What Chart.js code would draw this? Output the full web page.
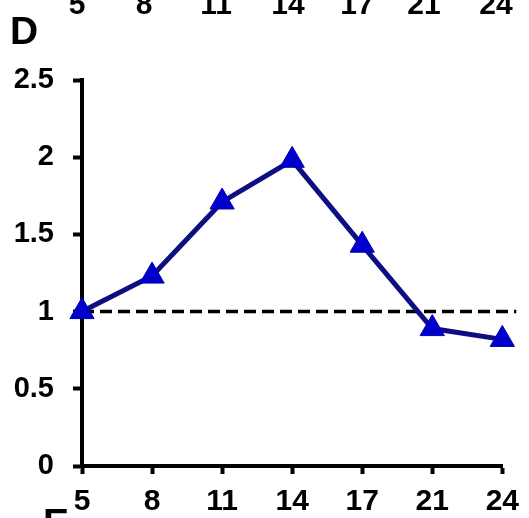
<!DOCTYPE html>
<html>
<head>
<meta charset="utf-8">
<script src="https://cdn.jsdelivr.net/npm/chart.js@4"></script>
<style>
  html, body { margin: 0; padding: 0; background: #fff; }
  #wrap { position: relative; width: 529px; height: 518px; overflow: hidden; }
  #chart { position: absolute; left: 0; top: 0; }
  .txt { position: absolute; font-family: "Liberation Sans", Arial, sans-serif; font-weight: bold; color: #000; line-height: 1; white-space: nowrap; }
  .top { font-size: 30px; transform: translateX(-50%); }
  .panel { font-size: 39px; }
</style>
</head>
<body>
<div id="wrap">
  <canvas id="chart" width="529" height="518"></canvas>
</div>
<script>
// dias
const categorias = ["5", "8", "11", "14", "17", "21", "24"];
// razao relativa
const valores = [1.0, 1.23, 1.71, 1.98, 1.43, 0.89, 0.82];
const yTicks = [0, 0.5, 1, 1.5, 2, 2.5];
const linhaRef = 1;

// rotulos cortados do painel de cima e letras dos paineis
const rotulosTopo = ["5", "8", "11", "14", "17", "21", "24"];
const posTopo = [77, 144, 216, 288, 357, 424, 496];

const wrap = document.getElementById("wrap");
rotulosTopo.forEach((t, i) => {
    const d = document.createElement("div");
    d.className = "txt top";
    d.style.left = posTopo[i] + "px";
    d.style.top = "-11px";
    d.innerText = t;
    wrap.appendChild(d);
});
const letraD = document.createElement("div");
letraD.className = "txt panel";
letraD.style.left = "10px";
letraD.style.top = "11px";
letraD.innerText = "D";
wrap.appendChild(letraD);
const letraE = document.createElement("div");
letraE.className = "txt panel";
letraE.style.left = "43px";
letraE.style.top = "503px";
letraE.innerText = "E";
wrap.appendChild(letraE);

// linha tracejada em y = 1
const refLinePlugin = {
    id: "refLine",
    beforeDatasetsDraw(chart) {
        const ctx = chart.ctx;
        const y = chart.scales.y.getPixelForValue(linhaRef);
        const xs = chart.scales.x;
        ctx.save();
        ctx.strokeStyle = "#000";
        ctx.lineWidth = 3.5;
        ctx.setLineDash([12, 6]);
        ctx.beginPath();
        ctx.moveTo(xs.getPixelForValue(0), y);
        ctx.lineTo(xs.getPixelForValue(categorias.length - 1) + 14, y);
        ctx.stroke();
        ctx.restore();
    }
};

const fonte = { family: "'Liberation Sans', Arial, sans-serif", weight: "bold" };

new Chart(document.getElementById("chart"), {
    type: "line",
    data: {
        labels: categorias,
        datasets: [{
            data: valores,
            borderColor: "#0e0e82",
            borderWidth: 5,
            backgroundColor: "#0000cc",
            pointStyle: "triangle",
            pointRadius: 14,
            pointBorderWidth: 1,
            pointBorderColor: "#0000b0",
            pointBackgroundColor: "#0000cc",
            tension: 0,
            clip: false
        }]
    },
    options: {
        responsive: false,
        animation: false,
        layout: { padding: { top: 80, right: 26, left: 0, bottom: 0 } },
        plugins: {
            legend: { display: false },
            tooltip: { enabled: false }
        },
        scales: {
            x: {
                type: "category",
                offset: false,
                grid: {
                    drawOnChartArea: false,
                    drawTicks: true,
                    tickLength: 8,
                    tickWidth: 4,
                    tickColor: "#000"
                },
                border: { display: true, color: "#000", width: 4 },
                ticks: {
                    color: "#000",
                    font: { ...fonte, size: 30 },
                    padding: 10,
                    maxRotation: 0,
                    autoSkip: false
                },
                afterFit(scale) { scale.height = 52; }
            },
            y: {
                min: 0,
                max: 2.5,
                afterBuildTicks(scale) { scale.ticks = yTicks.map(v => ({ value: v })); },
                grid: {
                    drawOnChartArea: false,
                    drawTicks: true,
                    tickLength: 9,
                    tickWidth: 4,
                    tickColor: "#000"
                },
                border: { display: true, color: "#000", width: 4 },
                ticks: {
                    color: "#000",
                    font: { ...fonte, size: 29 },
                    padding: 19,
                    callback: v => String(v)
                },
                afterFit(scale) { scale.width = 82; }
            }
        }
    },
    plugins: [refLinePlugin]
});
</script>
</body>
</html>
